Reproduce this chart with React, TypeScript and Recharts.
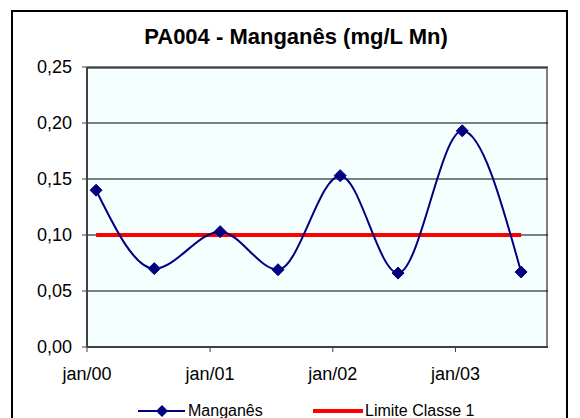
import React from "react";
import { LineChart, Line, XAxis, YAxis, CartesianGrid } from "recharts";

// sample dates and values (mg/L Mn)
const sampleDates = [
  "2000-01-28",
  "2000-07-19",
  "2001-01-31",
  "2001-07-22",
  "2002-01-23",
  "2002-07-14",
  "2003-01-21",
  "2003-07-15",
];
const manganes = [0.14, 0.07, 0.103, 0.069, 0.153, 0.066, 0.193, 0.067];
const limiteClasse1 = 0.1;

const tickDates = ["2000-01-01", "2001-01-01", "2002-01-01", "2003-01-01"];
const tickLabels = ["jan/00", "jan/01", "jan/02", "jan/03"];
const axisStart = "2000-01-01";
const axisEnd = "2003-10-03";
const yTicks = [0, 0.05, 0.1, 0.15, 0.2, 0.25];

const DAY = 86400000;
const toDays = (d: string) => (Date.parse(d) - Date.parse(axisStart)) / DAY;

const data = sampleDates.map((d, i) => ({
  t: toDays(d),
  mn: manganes[i],
  limite: limiteClasse1,
}));
const xTicks = tickDates.map(toDays);

const FONT = '"Liberation Sans", Arial, sans-serif';

const Diamond = (props: any) => {
  const { cx, cy } = props;
  if (cx == null || cy == null) return null;
  const r = 6;
  return (
    <polygon
      points={`${cx},${cy - r} ${cx + r},${cy} ${cx},${cy + r} ${cx - r},${cy}`}
      fill="#000080"
      stroke="#000080"
    />
  );
};

export default function App() {
  return (
    <div
      style={{
        position: "absolute",
        left: 0,
        top: 0,
        width: 580,
        height: 418,
        overflow: "hidden",
        background: "#fff",
        fontFamily: FONT,
      }}
    >
      <div
        style={{
          position: "absolute",
          left: 11,
          top: 10,
          width: 557,
          height: 460,
          border: "2px solid #000",
          boxSizing: "border-box",
        }}
      />
      <div
        style={{
          position: "absolute",
          left: 87,
          top: 67,
          width: 461,
          height: 280,
          background: "#F5FFFF",
          borderTop: "2px solid #808080",
          borderRight: "2px solid #808080",
          boxSizing: "border-box",
        }}
      />
      <div
        style={{
          position: "absolute",
          left: 12,
          top: 25,
          width: 568,
          textAlign: "center",
          fontSize: 22,
          lineHeight: "24px",
          fontWeight: "bold",
          color: "#000",
        }}
      >
        PA004 - Manganês (mg/L Mn)
      </div>
      <div style={{ position: "absolute", left: 0, top: 0 }}>
        <LineChart
          width={580}
          height={418}
          data={data}
          margin={{ top: 67, right: 32, bottom: 41, left: 0 }}
        >
          <CartesianGrid vertical={false} stroke="#000" strokeWidth={1} />
          <XAxis
            dataKey="t"
            type="number"
            domain={[0, toDays(axisEnd)]}
            ticks={xTicks}
            tickFormatter={(v: number) => tickLabels[xTicks.indexOf(v)] ?? ""}
            height={30}
            axisLine={{ stroke: "#404040", strokeWidth: 2 }}
            tickLine={{ stroke: "#404040", strokeWidth: 1 }}
            tickSize={5}
            tickMargin={15}
            tick={{ fill: "#000", fontSize: 18, fontFamily: FONT }}
            interval={0}
          />
          <YAxis
            type="number"
            domain={[0, 0.25]}
            ticks={yTicks}
            width={87}
            tickFormatter={(v: number) => v.toFixed(2).replace(".", ",")}
            axisLine={{ stroke: "#404040", strokeWidth: 2 }}
            tickLine={{ stroke: "#404040", strokeWidth: 1 }}
            tickSize={5}
            tickMargin={10}
            tick={{ fill: "#000", fontSize: 18, fontFamily: FONT }}
            interval={0}
          />
          <Line
            dataKey="limite"
            name="Limite Classe 1"
            type="linear"
            stroke="#FF0000"
            strokeWidth={4}
            dot={false}
            activeDot={false}
            isAnimationActive={false}
          />
          <Line
            dataKey="mn"
            name="Manganês"
            type="monotone"
            stroke="#000080"
            strokeWidth={2}
            dot={<Diamond />}
            activeDot={false}
            isAnimationActive={false}
          />
        </LineChart>
      </div>
      <svg
        style={{ position: "absolute", left: 0, top: 400 }}
        width={580}
        height={18}
      >
        <line x1={138} y1={11} x2={185} y2={11} stroke="#000080" strokeWidth={2} />
        <polygon points="162,5 168,11 162,17 156,11" fill="#000080" />
        <line x1={313} y1={11} x2={363} y2={11} stroke="#FF0000" strokeWidth={4} />
      </svg>
      <span
        style={{
          position: "absolute",
          left: 188,
          top: 402,
          fontSize: 16,
          lineHeight: "18px",
          color: "#000",
          whiteSpace: "nowrap",
        }}
      >
        Manganês
      </span>
      <span
        style={{
          position: "absolute",
          left: 365,
          top: 402,
          fontSize: 16,
          lineHeight: "18px",
          color: "#000",
          whiteSpace: "nowrap",
        }}
      >
        Limite Classe 1
      </span>
    </div>
  );
}
